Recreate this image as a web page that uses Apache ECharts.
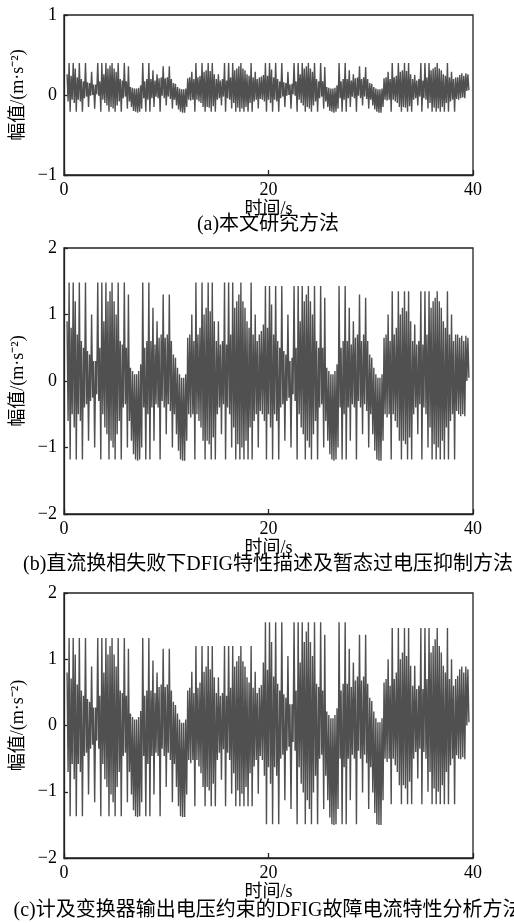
<!DOCTYPE html>
<html><head><meta charset="utf-8">
<script src="https://cdn.jsdelivr.net/npm/echarts@6/dist/echarts.min.js"></script>
<style>html,body{margin:0;padding:0;background:#fff}#c{width:514px;height:923px}</style>
</head><body><div id="c"></div>
<script>
// sampling of the plotted signal: a peak at t, the following trough at t + sampleStep
const sampleStart = 0.3;
const sampleStep = 0.1;
const xTicks = { min: 0, max: 40, interval: 20 };
const captions = ['(a)本文研究方法', '(b)直流换相失败下DFIG特性描述及暂态过电压抑制方法', '(c)计及变换器输出电压约束的DFIG故障电流特性分析方法'];
const xName = '时间/s';
const yName = '幅值/(m·s⁻²)';

// (a)
const peaksA = [
0.26,0.40,0.24,0.40,0.33,0.22,0.40,0.20,0.17,0.40,
0.16,0.15,0.29,0.13,0.13,0.40,0.17,0.40,0.26,0.40,
0.33,0.37,0.40,0.33,0.29,0.40,0.20,0.18,0.40,0.17,
0.36,0.10,0.09,0.08,0.08,0.09,0.12,0.40,0.17,0.20,
0.40,0.20,0.31,0.18,0.26,0.21,0.22,0.36,0.21,0.22,
0.36,0.20,0.15,0.14,0.10,0.08,0.07,0.07,0.08,
0.21,0.22,0.29,0.20,0.40,0.22,0.24,0.40,0.29,0.31,
0.40,0.30,0.40,0.26,0.20,0.26,0.18,0.20,0.40,0.18,
0.40,0.22,0.40,0.31,0.33,0.36,0.40,0.33,0.31,0.26,
0.24,0.40,0.22,0.29,0.20,0.22,0.23,
0.25,0.40,0.24,0.40,0.32,0.22,0.40,0.20,0.17,0.40,
0.16,0.15,0.29,0.13,0.14,0.40,0.17,0.40,0.26,0.40,
0.33,0.36,0.40,0.33,0.29,0.40,0.20,0.17,0.40,0.17,
0.35,0.10,0.09,0.08,0.08,0.09,0.12,0.40,0.17,0.20,
0.40,0.20,0.31,0.18,0.26,0.21,0.22,0.36,0.20,0.22,
0.35,0.20,0.15,0.14,0.10,0.08,0.07,0.07,0.08,
0.21,0.22,0.29,0.20,0.40,0.22,0.24,0.40,0.29,0.31,
0.40,0.30,0.40,0.26,0.20,0.25,0.18,0.20,0.40,0.18,
0.40,0.22,0.40,0.31,0.33,0.35,0.40,0.33,0.31,0.26,
0.24,0.40,0.22,0.29,0.20,0.22,0.22,
0.25,0.27,0.24,0.27,0.26];
const troughsA = [
-0.08,-0.21,-0.06,-0.10,-0.21,-0.06,-0.08,-0.21,-0.04,-0.02,
-0.15,-0.01,0.00,-0.17,0.01,-0.01,-0.21,-0.06,-0.10,-0.13,
-0.21,-0.15,-0.17,-0.21,-0.13,-0.08,-0.21,-0.04,-0.02,-0.17,
-0.08,-0.15,-0.20,-0.21,-0.22,-0.21,-0.17,-0.04,-0.21,-0.06,
-0.21,-0.04,-0.15,-0.02,-0.04,-0.21,-0.01,-0.04,-0.13,-0.02,
-0.05,-0.17,-0.06,-0.13,-0.18,-0.21,-0.22,-0.22,-0.15,
-0.06,-0.07,-0.06,-0.21,-0.06,-0.08,-0.10,-0.15,-0.21,-0.15,
-0.16,-0.21,-0.14,-0.21,-0.06,-0.04,-0.13,-0.02,-0.21,-0.04,
-0.06,-0.17,-0.10,-0.21,-0.16,-0.21,-0.17,-0.21,-0.15,-0.21,
-0.10,-0.21,-0.08,-0.06,-0.17,-0.05,-0.06,
-0.08,-0.21,-0.06,-0.10,-0.21,-0.06,-0.08,-0.21,-0.04,-0.02,
-0.15,-0.01,0.00,-0.17,0.01,-0.01,-0.21,-0.06,-0.10,-0.13,
-0.21,-0.15,-0.17,-0.21,-0.13,-0.08,-0.21,-0.04,-0.02,-0.17,
-0.08,-0.15,-0.20,-0.21,-0.22,-0.21,-0.17,-0.04,-0.21,-0.06,
-0.21,-0.04,-0.15,-0.02,-0.04,-0.21,-0.01,-0.04,-0.13,-0.02,
-0.05,-0.17,-0.06,-0.13,-0.18,-0.21,-0.22,-0.22,-0.15,
-0.06,-0.07,-0.06,-0.21,-0.06,-0.08,-0.10,-0.15,-0.21,-0.15,
-0.16,-0.21,-0.14,-0.21,-0.06,-0.04,-0.13,-0.02,-0.21,-0.04,
-0.06,-0.17,-0.10,-0.21,-0.16,-0.21,-0.17,-0.21,-0.15,-0.21,
-0.10,-0.21,-0.08,-0.06,-0.21,-0.05,-0.06,
-0.04,-0.03,-0.04,0.05,0.06];

// (b)
const peaksB = [
0.9,1.48,0.8,1.48,1.2,0.7,1.48,0.6,0.5,1.48,
0.45,0.4,1.0,0.3,0.3,1.48,0.5,1.48,0.9,1.48,
1.2,1.35,1.48,1.2,1.0,1.48,0.6,0.55,1.48,0.5,
1.3,0.2,0.15,0.1,0.1,0.15,0.25,1.48,0.5,0.6,
1.48,0.6,1.1,0.55,0.9,0.65,0.7,1.3,0.65,0.7,
1.3,0.6,0.4,0.35,0.2,0.1,0.05,0.05,0.1,
0.65,0.7,1.0,0.6,1.48,0.7,0.8,1.48,1.0,1.1,
1.48,1.05,1.48,0.9,0.6,0.9,0.55,0.6,1.48,0.55,
1.48,0.7,1.48,1.1,1.2,1.3,1.48,1.2,1.1,0.9,
0.8,1.48,0.7,1.0,0.6,0.7,0.75,
0.85,1.43,0.8,1.43,1.15,0.7,1.43,0.6,0.5,1.43,
0.45,0.4,1.0,0.3,0.35,1.43,0.5,1.43,0.9,1.43,
1.2,1.3,1.43,1.2,1.0,1.43,0.6,0.5,1.43,0.5,
1.25,0.2,0.15,0.1,0.1,0.15,0.25,1.43,0.5,0.6,
1.43,0.6,1.1,0.55,0.9,0.65,0.7,1.3,0.6,0.7,
1.25,0.6,0.4,0.35,0.2,0.1,0.05,0.05,0.1,
0.65,0.7,1.0,0.6,1.35,0.7,0.8,1.35,1.0,1.1,
1.35,1.05,1.35,0.9,0.6,0.85,0.55,0.6,1.35,0.55,
1.35,0.7,1.35,1.1,1.2,1.25,1.35,1.2,1.1,0.9,
0.8,1.35,0.7,1.0,0.6,0.7,0.7,
0.65,0.68,0.6,0.68,0.65];
const troughsB = [
-0.6,-1.18,-0.5,-0.7,-1.18,-0.5,-0.6,-1.18,-0.4,-0.35,
-0.9,-0.3,-0.25,-1.0,-0.2,-0.3,-1.18,-0.5,-0.7,-0.8,
-1.18,-0.9,-1.0,-1.18,-0.8,-0.6,-1.18,-0.4,-0.35,-1.0,
-0.6,-0.9,-1.1,-1.18,-1.2,-1.18,-1.0,-0.4,-1.18,-0.5,
-1.18,-0.4,-0.9,-0.35,-0.4,-1.18,-0.3,-0.4,-0.8,-0.35,
-0.45,-1.0,-0.5,-0.8,-1.05,-1.18,-1.2,-1.2,-0.9,
-0.5,-0.55,-0.5,-1.18,-0.5,-0.6,-0.7,-0.9,-1.18,-0.9,
-0.95,-1.18,-0.85,-1.18,-0.5,-0.4,-0.8,-0.35,-1.18,-0.4,
-0.5,-1.0,-0.7,-1.18,-0.95,-1.18,-1.0,-1.18,-0.9,-1.18,
-0.7,-1.18,-0.6,-0.5,-1.0,-0.45,-0.5,
-0.6,-1.18,-0.5,-0.7,-1.18,-0.5,-0.6,-1.18,-0.4,-0.35,
-0.9,-0.3,-0.25,-1.0,-0.2,-0.3,-1.18,-0.5,-0.7,-0.8,
-1.18,-0.9,-1.0,-1.18,-0.8,-0.6,-1.18,-0.4,-0.35,-1.0,
-0.6,-0.9,-1.1,-1.18,-1.2,-1.18,-1.0,-0.4,-1.18,-0.5,
-1.18,-0.4,-0.9,-0.35,-0.4,-1.18,-0.3,-0.4,-0.8,-0.35,
-0.45,-1.0,-0.5,-0.8,-1.05,-1.18,-1.2,-1.2,-0.9,
-0.5,-0.55,-0.5,-1.18,-0.5,-0.6,-0.7,-0.9,-1.18,-0.9,
-0.95,-1.18,-0.85,-1.18,-0.5,-0.4,-0.8,-0.35,-1.18,-0.4,
-0.5,-1.0,-0.7,-1.18,-0.95,-1.18,-1.0,-1.18,-0.9,-1.18,
-0.7,-1.18,-0.6,-0.5,-1.18,-0.45,-0.5,
-0.53,-0.5,-0.53,0.0,0.05];

// (c)
const peaksC = [
0.80,1.32,0.71,1.32,1.07,0.62,1.32,0.53,0.45,1.32,
0.40,0.36,0.89,0.27,0.27,1.32,0.45,1.32,0.80,1.32,
1.07,1.20,1.32,1.07,0.89,1.32,0.53,0.49,1.32,0.45,
1.16,0.18,0.13,0.09,0.09,0.13,0.22,1.32,0.45,0.53,
1.32,0.53,0.98,0.49,0.80,0.58,0.62,1.16,0.58,0.62,
1.16,0.53,0.36,0.31,0.18,0.09,0.04,0.04,0.09,
0.53,0.57,0.81,0.49,1.20,0.57,0.65,1.20,0.81,0.89,
1.20,0.85,1.20,0.73,0.49,0.73,0.45,0.49,1.20,0.45,
1.20,0.57,1.20,0.89,0.97,1.05,1.20,0.97,0.89,0.73,
0.65,1.20,0.57,0.81,0.49,0.57,0.61,
0.95,1.56,0.84,1.56,1.26,0.74,1.56,0.63,0.53,1.56,
0.47,0.42,1.05,0.32,0.32,1.56,0.53,1.56,0.95,1.56,
1.26,1.42,1.56,1.26,1.05,1.56,0.63,0.58,1.56,0.53,
1.37,0.21,0.16,0.11,0.11,0.16,0.26,1.56,0.53,0.63,
1.56,0.63,1.16,0.58,0.95,0.68,0.74,1.37,0.68,0.74,
1.37,0.63,0.42,0.37,0.21,0.11,0.05,0.05,0.11,
0.65,0.70,1.00,0.60,1.47,0.70,0.80,1.47,1.00,1.10,
1.47,1.05,1.47,0.90,0.60,0.90,0.55,0.60,1.47,0.55,
1.47,0.70,1.47,1.10,1.20,1.30,1.47,1.20,1.10,0.90,
0.80,1.47,0.70,1.00,0.60,0.70,0.75,
0.85,0.89,0.80,0.89,0.85];
const troughsC = [
-0.70,-1.37,-0.58,-0.81,-1.37,-0.58,-0.70,-1.37,-0.46,-0.41,
-1.04,-0.35,-0.29,-1.16,-0.23,-0.35,-1.37,-0.58,-0.81,-0.93,
-1.37,-1.04,-1.16,-1.37,-0.93,-0.70,-1.37,-0.46,-0.41,-1.16,
-0.70,-1.04,-1.28,-1.37,-1.38,-1.37,-1.16,-0.46,-1.37,-0.58,
-1.37,-0.46,-1.04,-0.41,-0.46,-1.37,-0.35,-0.46,-0.93,-0.41,
-0.52,-1.16,-0.58,-0.93,-1.22,-1.37,-1.38,-1.38,-1.04,
-0.52,-0.57,-0.52,-1.22,-0.52,-0.62,-0.72,-0.93,-1.22,-0.93,
-0.98,-1.22,-0.88,-1.22,-0.52,-0.41,-0.82,-0.36,-1.22,-0.41,
-0.52,-1.03,-0.72,-1.22,-0.98,-1.22,-1.03,-1.22,-0.93,-1.22,
-0.72,-1.22,-0.62,-0.52,-1.03,-0.46,-0.52,
-0.76,-1.49,-0.63,-0.88,-1.49,-0.63,-0.76,-1.49,-0.50,-0.44,
-1.13,-0.38,-0.32,-1.26,-0.25,-0.38,-1.49,-0.63,-0.88,-1.01,
-1.49,-1.13,-1.26,-1.49,-1.01,-0.76,-1.49,-0.50,-0.44,-1.26,
-0.76,-1.13,-1.39,-1.49,-1.50,-1.49,-1.26,-0.50,-1.49,-0.63,
-1.49,-0.50,-1.13,-0.44,-0.50,-1.49,-0.38,-0.50,-1.01,-0.44,
-0.57,-1.26,-0.63,-1.01,-1.32,-1.49,-1.50,-1.50,-1.13,
-0.50,-0.55,-0.50,-1.19,-0.50,-0.60,-0.70,-0.90,-1.19,-0.90,
-0.95,-1.19,-0.85,-1.19,-0.50,-0.40,-0.80,-0.35,-1.19,-0.40,
-0.50,-1.00,-0.70,-1.19,-0.95,-1.19,-1.00,-1.19,-0.90,-1.19,
-0.70,-1.19,-0.60,-0.50,-1.19,-0.45,-0.50,
-0.51,-0.48,-0.51,0.00,0.05];

const yRanges = [
  { min: -1, max: 1, interval: 1 },
  { min: -2, max: 2, interval: 1 },
  { min: -2, max: 2, interval: 1 }
];

function buildSignal(peaks, troughs) {
  const d = [];
  for (let i = 0; i < peaks.length; i++) {
    d.push([+(sampleStart + 2 * i * sampleStep).toFixed(2), peaks[i]]);
    d.push([+(sampleStart + (2 * i + 1) * sampleStep).toFixed(2), troughs[i]]);
  }
  return d;
}

const FONT = "'Liberation Serif', 'Noto Sans CJK SC', serif";
const grids = [
  { left: 64, top: 15, width: 409, height: 160 },
  { left: 64, top: 248, width: 409, height: 266 },
  { left: 64, top: 593, width: 409, height: 265 }
];
const captionY = [225, 565, 911];

const chart = echarts.init(document.getElementById('c'), null, { renderer: 'canvas' });
const option = {
  animation: false,
  backgroundColor: '#ffffff',
  grid: grids.map(g => Object.assign({ show: true, borderColor: '#222', borderWidth: 1.3, backgroundColor: 'transparent' }, g)),
  xAxis: grids.map((g, i) => ({
    type: 'value', gridIndex: i, min: xTicks.min, max: xTicks.max, interval: xTicks.interval,
    name: xName, nameLocation: 'middle', nameGap: 25,
    nameTextStyle: { fontFamily: FONT, fontSize: 18, color: '#000' },
    axisLine: { show: true, onZero: false, lineStyle: { color: '#222', width: 1.3 } },
    axisTick: { show: true, inside: true, length: 5, lineStyle: { color: '#222', width: 1.3 } },
    axisLabel: { fontFamily: FONT, fontSize: 18, color: '#000', margin: 6 },
    splitLine: { show: false }
  })),
  yAxis: grids.map((g, i) => ({
    type: 'value', gridIndex: i, min: yRanges[i].min, max: yRanges[i].max, interval: yRanges[i].interval,
    name: yName, nameLocation: 'middle', nameRotate: 90, nameGap: 29,
    nameTextStyle: { fontFamily: FONT, fontSize: 18, color: '#000' },
    axisLine: { show: true, onZero: false, lineStyle: { color: '#222', width: 1.3 } },
    axisTick: { show: true, inside: true, length: 4, lineStyle: { color: '#222', width: 1.3 } },
    axisLabel: { fontFamily: FONT, fontSize: 18, color: '#000', margin: 7,
      formatter: v => String(v).replace('-', '\u2212') },
    splitLine: { show: false }
  })),
  series: [[peaksA, troughsA], [peaksB, troughsB], [peaksC, troughsC]].map((p, i) => ({
    type: 'line', xAxisIndex: i, yAxisIndex: i, data: buildSignal(p[0], p[1]),
    showSymbol: false, symbol: 'none', sampling: null,
    lineStyle: { color: '#505050', width: 1.4, join: 'miter' }, emphasis: { disabled: true }
  })),
  graphic: captions.map((c, i) => ({
    type: 'text', x: 268, y: captionY[i],
    style: { text: c, font: '20px ' + FONT, fill: '#000', align: 'center', verticalAlign: 'middle', textAlign: 'center', textVerticalAlign: 'middle' }
  }))
};
chart.setOption(option);
</script></body></html>
